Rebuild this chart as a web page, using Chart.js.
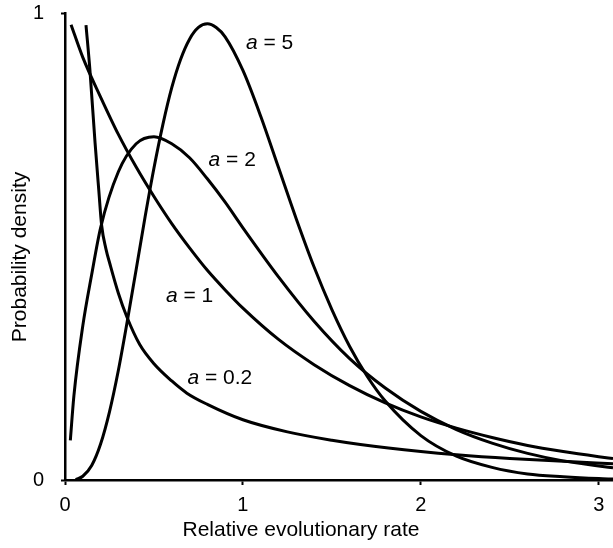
<!DOCTYPE html>
<html>
<head>
<meta charset="utf-8">
<script src="https://cdn.jsdelivr.net/npm/chart.js@4.4.1/dist/chart.umd.min.js"></script>
<style>
  html, body { margin: 0; padding: 0; background: #fff; }
  canvas { display: block; }
</style>
</head>
<body>
<canvas id="chart" width="613" height="548"></canvas>
<script>
// gamma densities (mean 1)
const shapeValues = ['0.2', '1', '2', '5'];

const rateA02 = [0.118, 0.14, 0.169, 0.19, 0.206, 0.23, 0.253, 0.30, 0.348, 0.42, 0.5, 0.6, 0.685, 0.8, 1.0, 1.25, 1.5, 1.66, 2.0, 2.2, 2.5, 2.8, 3.08];
const densA02 = [0.974, 0.878, 0.722, 0.62, 0.545, 0.495, 0.462, 0.40, 0.349, 0.29, 0.249, 0.212, 0.186, 0.162, 0.129, 0.103, 0.085, 0.076, 0.061, 0.054, 0.046, 0.040, 0.035];

const rateA1 = [0.034, 0.1, 0.2, 0.3, 0.4, 0.5, 0.6, 0.7, 0.8, 0.9, 1.0, 1.2, 1.4, 1.6, 1.8, 2.0, 2.2, 2.4, 2.6, 2.8, 3.0, 3.08];
const densA1 = [0.975, 0.905, 0.82, 0.74, 0.67, 0.607, 0.549, 0.497, 0.449, 0.407, 0.368, 0.301, 0.247, 0.202, 0.165, 0.135, 0.111, 0.091, 0.074, 0.061, 0.050, 0.046];

const rateA2 = [0.03, 0.05, 0.1, 0.15, 0.2, 0.3, 0.4, 0.5, 0.6, 0.7, 0.8, 0.9, 1.0, 1.2, 1.4, 1.6, 1.8, 2.0, 2.2, 2.4, 2.6, 2.8, 3.0, 3.08];
const densA2 = [0.085, 0.18, 0.33, 0.44, 0.54, 0.66, 0.72, 0.735, 0.72, 0.69, 0.645, 0.595, 0.54, 0.435, 0.34, 0.26, 0.197, 0.147, 0.108, 0.079, 0.057, 0.041, 0.030, 0.026];

const rateA5 = [0.06, 0.1, 0.15, 0.2, 0.25, 0.3, 0.35, 0.4, 0.45, 0.5, 0.55, 0.6, 0.65, 0.7, 0.75, 0.8, 0.85, 0.9, 1.0, 1.1, 1.2, 1.3, 1.4, 1.5, 1.6, 1.7, 1.8, 2.0, 2.2, 2.4, 2.6, 2.8, 3.0, 3.08];
const densA5 = [0.001, 0.008, 0.031, 0.077, 0.146, 0.235, 0.34, 0.451, 0.563, 0.668, 0.761, 0.84, 0.901, 0.944, 0.969, 0.977, 0.969, 0.949, 0.877, 0.779, 0.669, 0.559, 0.456, 0.365, 0.286, 0.221, 0.169, 0.095, 0.051, 0.027, 0.013, 0.007, 0.003, 0.002];

const xTicks = [0, 1, 2, 3];
const yTicks = [0, 1];
const xTitle = 'Relative evolutionary rate';
const yTitle = 'Probability density';

const FONT = '"Liberation Sans", Arial, sans-serif';

function toPoints(xs, ys) {
  return xs.map((x, i) => ({ x: x, y: ys[i] }));
}

function curve(xs, ys) {
  return {
    data: toPoints(xs, ys),
    borderColor: '#000',
    borderWidth: 3,
    pointRadius: 0,
    fill: false,
    cubicInterpolationMode: 'monotone'
  };
}

// where each "a = ..." label sits, in data units
const labelSpots = [
  { x: 0.87, y: 0.218 },
  { x: 0.70, y: 0.394 },
  { x: 0.94, y: 0.685 },
  { x: 1.15, y: 0.936 }
];

const curveLabels = {
  id: 'curveLabels',
  afterDraw(chart) {
    const ctx = chart.ctx;
    const xs = chart.scales.x;
    const ys = chart.scales.y;
    ctx.save();
    ctx.fillStyle = '#000';
    ctx.textBaseline = 'middle';
    ctx.textAlign = 'left';
    shapeValues.forEach((v, i) => {
      const cx = xs.getPixelForValue(labelSpots[i].x);
      const cy = ys.getPixelForValue(labelSpots[i].y);
      const rest = ' = ' + v;
      ctx.font = 'italic 21px ' + FONT;
      const wa = ctx.measureText('a').width;
      ctx.font = '21px ' + FONT;
      const wr = ctx.measureText(rest).width;
      const left = cx - (wa + wr) / 2;
      ctx.font = 'italic 21px ' + FONT;
      ctx.fillText('a', left, cy);
      ctx.font = '21px ' + FONT;
      ctx.fillText(rest, left + wa, cy);
    });

    // axis titles (the original centres them on the page, not the plot)
    ctx.font = '21px ' + FONT;
    ctx.textAlign = 'center';
    ctx.fillText(xTitle, 301, 530);
    ctx.translate(20, 257);
    ctx.rotate(-Math.PI / 2);
    ctx.fillText(yTitle, 0, 0);
    ctx.restore();
  }
};

new Chart(document.getElementById('chart'), {
  type: 'line',
  data: {
    datasets: [
      curve(rateA02, densA02),
      curve(rateA1, densA1),
      curve(rateA2, densA2),
      curve(rateA5, densA5)
    ]
  },
  options: {
    responsive: false,
    animation: false,
    devicePixelRatio: 1,
    layout: { padding: { left: 7, top: 13, right: 0, bottom: 6 } },
    plugins: {
      legend: { display: false },
      tooltip: { enabled: false }
    },
    scales: {
      x: {
        type: 'linear',
        min: 0,
        max: 3.08,
        afterBuildTicks(scale) { scale.ticks = xTicks.map(v => ({ value: v })); },
        afterFit(scale) { scale.paddingRight = 0; scale.paddingLeft = 0; scale.height = 62; },
        ticks: {
          color: '#000',
          font: { family: FONT, size: 20 },
          padding: 8
        },
        grid: {
          drawOnChartArea: false,
          drawTicks: true,
          tickLength: 5,
          color: '#000',
          tickWidth: 2
        },
        border: { display: true, color: '#000', width: 2.5 }
      },
      y: {
        type: 'linear',
        min: 0,
        max: 1,
        afterBuildTicks(scale) { scale.ticks = yTicks.map(v => ({ value: v })); },
        afterFit(scale) { scale.paddingTop = 0; scale.paddingBottom = 0; scale.width = 58; },
        ticks: {
          color: '#000',
          font: { family: FONT, size: 20 },
          padding: 17
        },
        grid: {
          drawOnChartArea: false,
          drawTicks: true,
          tickLength: 4,
          color: '#000',
          tickWidth: 2
        },
        border: { display: true, color: '#000', width: 2.5 }
      }
    }
  },
  plugins: [curveLabels]
});
</script>
</body>
</html>
